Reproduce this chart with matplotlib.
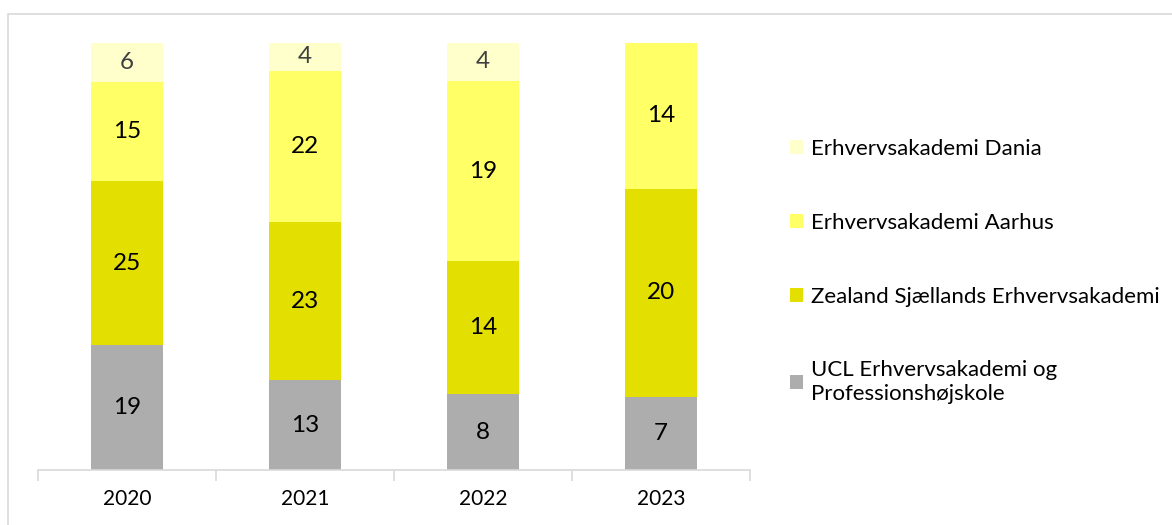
import matplotlib.pyplot as plt
from matplotlib.patches import Rectangle
import numpy as np

plt.rcParams['font.family'] = ['Lato', 'DejaVu Sans']

years = ['2020', '2021', '2022', '2023']
series = ['UCL Erhvervsakademi og\nProfessionshøjskole',
          'Zealand Sjællands Erhvervsakademi',
          'Erhvervsakademi Aarhus',
          'Erhvervsakademi Dania']
ucl = [19, 13, 8, 7]
zealand = [25, 23, 14, 20]
aarhus = [15, 22, 19, 14]
dania = [6, 4, 4, 0]

colors = ['#ADADAD', '#E3DF00', '#FFFF66', '#FFFFCC']
label_colors = ['black', 'black', 'black', '#404040']

data = np.array([ucl, zealand, aarhus, dania], dtype=float)
totals = data.sum(axis=0)
shares = data / totals

W, H = 1172, 525
fig = plt.figure(figsize=(W / 100, H / 100), dpi=100)
ax = fig.add_axes([38 / W, (H - 470) / H, (750 - 38) / W, (470 - 43) / H])

x = np.arange(len(years))
bottom = np.zeros(len(years))
handles = []
for i in range(len(series)):
    bars = ax.bar(x, shares[i], width=0.4, bottom=bottom, color=colors[i],
                  label=series[i], zorder=2)
    handles.append(bars)
    for j in range(len(years)):
        if data[i, j] > 0:
            ax.text(x[j], bottom[j] + shares[i, j] / 2, f"{int(data[i, j])}",
                    ha='center', va='center', fontsize=17.5,
                    color=label_colors[i])
    bottom += shares[i]

ax.set_xlim(-0.5, len(years) - 0.5)
ax.set_ylim(0, 1)
ax.set_yticks([])
for s in ['top', 'right', 'left']:
    ax.spines[s].set_visible(False)
ax.spines['bottom'].set_color('#D9D9D9')
ax.spines['bottom'].set_linewidth(1.2)
ax.set_xticks(x)
ax.set_xticklabels(years, fontsize=15)
ax.tick_params(axis='x', which='major', length=0, pad=14)
ax.set_xticks(np.arange(-0.5, len(years)), minor=True)
ax.tick_params(axis='x', which='minor', length=8, color='#D9D9D9', width=1.2)

leg = fig.legend(handles[::-1], series[::-1], loc='upper left',
                 bbox_to_anchor=(770 / W, 1 - 119 / H), frameon=False,
                 fontsize=16, handlelength=0.6, handleheight=0.6,
                 handletextpad=0.35, labelspacing=2.42)

fig.patches.append(Rectangle((8 / W, -0.1), 1.2, 1 - 14 / H + 0.1,
                             transform=fig.transFigure, fill=False,
                             edgecolor='#D9D9D9', linewidth=1.2))

fig.savefig('out.png', dpi=100)
